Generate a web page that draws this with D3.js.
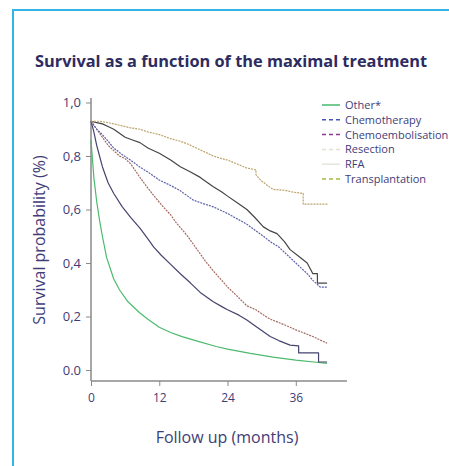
<!DOCTYPE html>
<html>
<head>
<meta charset="utf-8">
<script src="https://cdn.jsdelivr.net/npm/d3@7"></script>
<style>
  body { margin: 0; background: #fff; }
  svg { display: block; font-family: "Open Sans", sans-serif; }
</style>
</head>
<body>
<div id="chart"></div>
<script>
// data: [month, survival]
var other = [[0,0.86],[0.5,0.72],[1,0.63],[1.5,0.56],[2,0.5],[2.75,0.42],[4,0.34],[5,0.3],[6.5,0.255],[8.5,0.215],[10,0.19],[12,0.16],[14,0.14],[16,0.125],[19,0.106],[22,0.088],[24,0.078],[28,0.062],[32,0.048],[36,0.037],[40,0.028],[41.5,0.025]];
var chemoLow = [[0,0.93],[0.5,0.89],[1,0.84],[1.5,0.8],[2,0.76],[3,0.7],[4,0.66],[5.5,0.61],[7,0.57],[8.6,0.53],[10,0.49],[11,0.46],[12.3,0.43],[14,0.395],[15.7,0.36],[17.5,0.325],[19.2,0.29],[20.5,0.27],[21.5,0.255],[23,0.237],[24,0.225],[26,0.205],[27.4,0.187],[28.5,0.17],[29.5,0.155],[31.5,0.125],[33,0.11],[35,0.093],[36.5,0.09],[36.5,0.064],[40,0.064],[40,0.03],[41.5,0.03]];
var chemoEmbo = [[0,0.93],[1,0.9],[2,0.87],[3,0.84],[4,0.82],[5,0.8],[6,0.79],[7,0.77],[8.6,0.72],[10,0.68],[11.3,0.645],[12.7,0.61],[14,0.58],[15,0.55],[16,0.525],[17,0.5],[18,0.47],[19,0.44],[20,0.41],[21.5,0.37],[23,0.335],[24,0.31],[25.5,0.28],[27.4,0.24],[29,0.225],[30,0.21],[31.5,0.19],[33.3,0.175],[35,0.16],[36,0.15],[37.5,0.138],[39,0.125],[40.3,0.112],[41.5,0.1]];
var chemo = [[0,0.93],[1,0.9],[2,0.88],[3,0.855],[4,0.83],[5.5,0.805],[6.9,0.785],[8.5,0.76],[10,0.74],[12,0.71],[14,0.69],[15.7,0.67],[17,0.65],[18,0.635],[20,0.62],[21.5,0.61],[23,0.595],[24,0.585],[25.7,0.565],[27.4,0.545],[29,0.52],[30.3,0.5],[31.5,0.48],[33,0.46],[34,0.44],[35,0.42],[36,0.4],[37,0.38],[38,0.36],[39,0.335],[40.3,0.31],[41.5,0.31]];
var resection = [[0,0.93],[1,0.925],[2,0.92],[3,0.91],[4,0.9],[5,0.885],[6,0.87],[7.3,0.86],[8.6,0.85],[10,0.83],[12,0.81],[14,0.785],[15.7,0.76],[17.5,0.74],[19.2,0.72],[20.5,0.7],[21.5,0.685],[23,0.665],[24,0.65],[25.7,0.625],[27.4,0.6],[28.8,0.57],[30.3,0.535],[31.5,0.52],[32.7,0.51],[34,0.48],[35,0.45],[36.5,0.425],[38,0.4],[39,0.36],[39.8,0.36],[39.8,0.325],[41.5,0.325]];
var transplant = [[0,0.93],[1.5,0.93],[3,0.925],[5,0.915],[7,0.905],[8.6,0.9],[10,0.89],[12,0.88],[14,0.865],[15.7,0.855],[17,0.845],[18,0.835],[19.5,0.82],[21.5,0.8],[23,0.79],[24,0.785],[25.7,0.77],[27.4,0.755],[29,0.748],[29,0.73],[29.8,0.71],[31,0.69],[32,0.675],[34,0.672],[35.5,0.665],[37.3,0.66],[37.3,0.62],[41.7,0.62]];

var xTicks = [0, 12, 24, 36];
var yTicks = [0, 0.2, 0.4, 0.6, 0.8, 1.0];
var yTickLabels = ["0.0", "0,2", "0,4", "0,6", "0,8", "1,0"];

var legendNames = ["Other*", "Chemotherapy", "Chemoembolisation", "Resection", "RFA", "Transplantation"];
var legendColors = ["#47b96c", "#4555b0", "#8a3a93", "#e2e0d2", "#e4e6dc", "#a6b946"];
var legendDash = [null, "4,3", "4,3", "4,3", null, "4,3"];

var curves = [
    {data: other, color: "#4cba6c", dash: null},
    {data: chemoLow, color: "#45446f", dash: null},
    {data: chemoEmbo, color: "#a36a63", dash: "2,1"},
    {data: chemo, color: "#5b5fa8", dash: "2,1"},
    {data: resection, color: "#454545", dash: null},
    {data: transplant, color: "#bda36a", dash: "2,1"}
];

var width = 449, height = 466;
var textColor = "#3f3d78";

var svg = d3.select("#chart").append("svg")
    .attr("width", width)
    .attr("height", height);

// frame on the left and top
svg.append("path")
    .attr("d", "M13," + height + "V10H" + width)
    .attr("fill", "none")
    .attr("stroke", "#33b5e8")
    .attr("stroke-width", 2);

svg.append("text")
    .attr("x", 35)
    .attr("y", 67)
    .attr("fill", "#2d2b5f")
    .attr("textLength", 392)
    .attr("lengthAdjust", "spacingAndGlyphs")
    .style("font-size", "16px")
    .style("font-weight", "bold")
    .text("Survival as a function of the maximal treatment");

var x = d3.scaleLinear().domain([0, 45]).range([91, 347]);
var y = d3.scaleLinear().domain([0, 1]).range([370, 102.5]);

var axisColor = "#8a8a8a";

// y axis
var yAxis = svg.append("g")
    .attr("transform", "translate(91,0)")
    .call(d3.axisLeft(y).tickValues(yTicks).tickSize(5).tickFormat(function (d, i) { return yTickLabels[i]; }));
yAxis.select(".domain").remove();
yAxis.selectAll(".tick line").attr("stroke", axisColor);
yAxis.selectAll(".tick text")
    .attr("fill", textColor)
    .attr("x", -10)
    .style("font-size", "13px")
    .style("font-family", "'Open Sans', sans-serif");
svg.append("line")
    .attr("x1", 91).attr("x2", 91)
    .attr("y1", 98).attr("y2", 381)
    .attr("stroke", axisColor).attr("stroke-width", 1.5);

// x axis
var xAxis = svg.append("g")
    .attr("transform", "translate(0,381)")
    .call(d3.axisBottom(x).tickValues(xTicks).tickSize(5));
xAxis.select(".domain").remove();
xAxis.selectAll(".tick line").attr("stroke", axisColor);
xAxis.selectAll(".tick text")
    .attr("fill", textColor)
    .attr("y", 12)
    .style("font-size", "12px")
    .style("font-family", "'Open Sans', sans-serif");
svg.append("line")
    .attr("x1", 91).attr("x2", 347)
    .attr("y1", 381).attr("y2", 381)
    .attr("stroke", axisColor).attr("stroke-width", 1.5);

svg.append("text")
    .attr("x", 227)
    .attr("y", 443)
    .attr("text-anchor", "middle")
    .attr("fill", textColor)
    .style("font-size", "16px")
    .text("Follow up (months)");

svg.append("text")
    .attr("transform", "translate(45,240)rotate(-90)")
    .attr("text-anchor", "middle")
    .attr("fill", textColor)
    .style("font-size", "16px")
    .text("Survival probability (%)");

// survival curves
var line = d3.line()
    .x(function (d) { return x(d[0]); })
    .y(function (d) { return y(d[1]); });

curves.forEach(function (c) {
    svg.append("path")
        .datum(c.data)
        .attr("d", line)
        .attr("fill", "none")
        .attr("stroke", c.color)
        .attr("stroke-width", 1.2)
        .attr("stroke-linejoin", "round")
        .attr("stroke-dasharray", c.dash);
});

// legend
var legend = svg.append("g");
legendNames.forEach(function (name, i) {
    var ly = 105 + i * 14.8;
    legend.append("line")
        .attr("x1", 322).attr("x2", 340)
        .attr("y1", ly).attr("y2", ly)
        .attr("stroke", legendColors[i])
        .attr("stroke-width", 1.5)
        .attr("stroke-dasharray", legendDash[i]);
    legend.append("text")
        .attr("x", 345)
        .attr("y", ly + 4)
        .attr("fill", textColor)
        .style("font-size", "11px")
        .text(name);
});
</script>
</body>
</html>
